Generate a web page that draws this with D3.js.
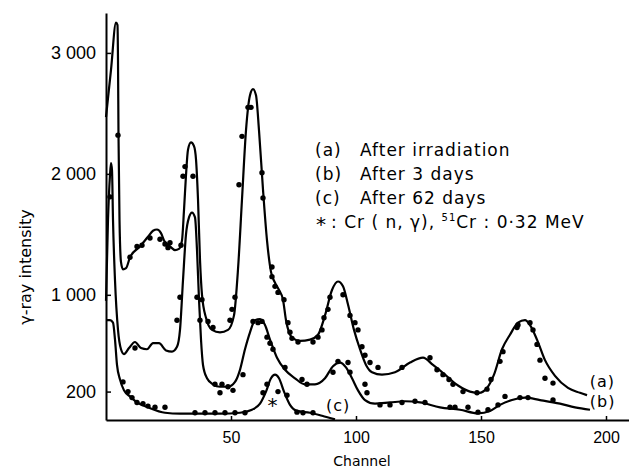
<!DOCTYPE html>
<html>
<head>
<meta charset="utf-8">
<script src="https://cdn.jsdelivr.net/npm/d3@7/dist/d3.min.js"></script>
<style>
	body { margin: 0; background: #fff; }
	svg { display: block; font-family: 'DejaVu Sans', sans-serif; }
</style>
</head>
<body>
<div id="chart"></div>
<script>
// spectra: [channel, intensity]
const curveA = [
	[0, 2470], [2, 2860], [4, 3250], [4.6, 3230], [4.8, 2940], [5, 2320], [5.4, 1620], [6, 1270],
	[6.8, 1210], [8, 1220], [9.6, 1310], [13.6, 1400], [16.8, 1480], [18.8, 1530], [20.4, 1540],
	[22, 1510], [23.2, 1450], [25.6, 1400], [27.6, 1370], [29.2, 1380], [30.4, 1450], [31.2, 1700],
	[32, 1990], [32.8, 2200], [34, 2260], [35.2, 2230], [36, 2120], [36.8, 1790], [37.6, 1290],
	[38.4, 1000], [40, 810], [42.4, 710], [45.6, 690], [48.8, 710], [51.2, 830], [52.8, 1210],
	[54.4, 1790], [56, 2360], [57.6, 2650], [58.8, 2700], [60, 2650], [61.2, 2360], [62.8, 1870],
	[64.4, 1450], [66, 1190], [67.6, 1100], [69.2, 1040], [70.8, 960], [72, 790], [73.2, 690],
	[74.8, 640], [77.6, 620], [81.6, 630], [84.8, 670], [87.6, 830], [90.4, 1040], [92.8, 1110],
	[94.8, 1070], [96.8, 920], [99.2, 710], [101.6, 550], [104, 420], [106.4, 360], [110.4, 340],
	[115.6, 360], [121.6, 440], [126.8, 480], [130.8, 420], [135.6, 340], [140.8, 250], [145.6, 200],
	[149.2, 190], [152.4, 230], [155.2, 340], [158.4, 550], [161.6, 670], [164.8, 770], [167.6, 790],
	[169.6, 750], [172.4, 630], [175.6, 460], [179.6, 330], [184.8, 230], [189.6, 190], [192.4, 170]
];

const curveB = [
	[0, 950], [0.8, 1620], [1.6, 1990], [2, 2090], [2.4, 2030], [2.8, 1620], [3.6, 1120], [4.8, 710],
	[6, 550], [7.2, 510], [9.2, 560], [11.6, 610], [14, 560], [16.4, 550], [18.8, 600], [21.2, 600],
	[24, 540], [26.4, 530], [28.4, 570], [29.6, 710], [30.8, 1120], [32, 1500], [33.2, 1640],
	[34.4, 1680], [35.6, 1640], [36.4, 1370], [37.2, 960], [38, 630], [38.8, 420], [40.4, 310],
	[42.8, 260], [45.6, 240], [48.8, 240], [51.6, 280], [53.6, 380], [55.6, 550], [57.6, 690],
	[59.6, 790], [61.6, 800], [63.6, 750], [65.6, 630], [68.4, 480], [71.6, 380], [75.6, 310],
	[79.6, 260], [83.6, 260], [87.6, 310], [90.8, 410], [93.6, 440], [96, 400], [98.4, 310],
	[100.8, 210], [103.6, 130], [107.6, 100], [113.6, 110], [119.6, 120], [125.6, 110], [133.6, 70],
	[141.6, 50], [148.8, 20], [153.6, 40], [157.6, 90], [162.4, 130], [167.6, 150], [173.6, 130],
	[181.6, 100], [187.6, 70], [193.6, 50]
];

const curveC = [
	[0, 790], [1.6, 790], [2.8, 770], [3.6, 630], [4.4, 420], [5.6, 300], [7.2, 210], [9.6, 160],
	[12.4, 110], [16.8, 70], [23.6, 25], [29.6, 17], [37.6, 17], [45.6, 17], [53.6, 25], [58.4, 50],
	[61.6, 100], [64, 200], [66, 310], [67.6, 340], [69.2, 310], [71.2, 200], [73.6, 90], [76.4, 40],
	[81.6, 25], [86.4, 0], [91.6, -30]
];

// measured points scattered along each curve
const dotsA = [
	[4.8, 2320], [9.6, 1310], [12.4, 1400], [14.4, 1410], [17.6, 1470], [21.6, 1460], [23.6, 1420],
	[24.8, 1390], [25.6, 1430], [30, 1410], [30.8, 1980], [31.6, 2060], [34.8, 1980], [38.4, 960],
	[40.8, 780], [42.8, 730], [49.6, 790], [50.4, 880], [51.6, 980], [53.2, 1910], [54.4, 2310],
	[56.8, 2550], [58, 2550], [62.4, 2010], [62.8, 1800], [66.4, 1230], [66.4, 1150], [67.6, 1070],
	[68.8, 1020], [71.2, 960], [72.8, 770], [73.6, 690], [74.4, 640], [76.8, 610], [82.8, 610],
	[84.8, 650], [86.4, 710], [87.2, 810], [88.8, 880], [89.6, 980], [94.8, 1000], [97.6, 830],
	[99.6, 770], [100.8, 710], [102.4, 570], [103.6, 500], [105.6, 440], [108.8, 400], [118.4, 400],
	[129.6, 480], [132.4, 380], [134.8, 340], [137.2, 300], [138.8, 260], [142.8, 200], [148.4, 190],
	[152.4, 220], [154, 300], [157.6, 450], [158.8, 530], [164.4, 730], [164.8, 750], [169.6, 770],
	[170.8, 710], [172.4, 590], [173.6, 460], [175.6, 310], [178.8, 270]
];

const dotsB = [
	[1.6, 1810], [11.6, 560], [28.4, 790], [29.6, 980], [36.4, 980], [37.6, 790], [43.6, 260],
	[45.6, 190], [46.4, 260], [48.8, 240], [50.8, 210], [54.8, 340], [58.8, 780], [60.8, 770],
	[62.4, 780], [64.4, 650], [65.6, 600], [66.8, 550], [71.6, 400], [78.4, 300], [80.4, 260],
	[90.8, 360], [92.8, 450], [96.8, 440], [97.6, 360], [103.6, 260], [104.4, 190], [109.6, 90],
	[113.6, 90], [118.4, 110], [123.6, 120], [127.6, 110], [137.6, 70], [139.6, 70], [144.8, 70],
	[148.8, 30], [152.8, 50], [156.8, 90], [159.6, 160], [165.6, 150], [168.8, 150], [178.8, 130]
];

const dotsC = [
	[6.8, 280], [8.8, 200], [10.4, 150], [12.4, 110], [14.8, 100], [16.8, 80], [19.6, 70],
	[23.6, 70], [35.6, 25], [39.6, 25], [43.6, 25], [47.6, 25], [51.6, 25], [55.6, 25], [62.8, 190],
	[64.4, 260], [68.8, 200], [72.4, 170], [76.4, 30], [78.8, 25], [82.8, 25]
];

const xTicks = [50, 100, 150, 200];
const yTicks = [200, 1000, 2000, 3000];
const legendKeys = ['(a)', '(b)', '(c)'];
const legendTexts = ['After  irradiation', 'After  3 days', 'After  62 days'];

const width = 629;
const height = 472;

const svg = d3.select('#chart').append('svg')
	.attr('width', width)
	.attr('height', height);

const x = d3.scaleLinear().domain([0, 209]).range([106, 628.5]);
const y = d3.scaleLinear().domain([-35, 3330]).range([420, 13]);

/* axes: ticks point into the plot */
const axisX = d3.axisBottom(x)
	.tickValues(xTicks)
	.tickSizeInner(-4)
	.tickSizeOuter(0)
	.tickPadding(12);

const axisY = d3.axisLeft(y)
	.tickValues(yTicks)
	.tickFormat(d => d >= 1000 ? d3.format(',')(d).replace(',', ' ') : d)
	.tickSizeInner(-5)
	.tickSizeOuter(0)
	.tickPadding(10);

const gx = svg.append('g')
	.attr('transform', `translate(0,${y.range()[0]})`)
	.call(axisX);
gx.selectAll('text').style('font-size', '16px').attr('fill', '#000');

const gy = svg.append('g')
	.attr('transform', `translate(${x.range()[0]},0)`)
	.call(axisY);
gy.selectAll('text').style('font-size', '18px').attr('fill', '#000');

svg.selectAll('.domain').attr('stroke', '#000').attr('stroke-width', 2);
svg.selectAll('.tick line').attr('stroke', '#000').attr('stroke-width', 1.5);

svg.append('text')
	.attr('x', x(102.4))
	.attr('y', 466)
	.attr('text-anchor', 'middle')
	.style('font-size', '14px')
	.text('Channel');

svg.append('text')
	.attr('transform', `translate(31,${y(1230)}) rotate(-90)`)
	.attr('text-anchor', 'middle')
	.style('font-size', '16px')
	.text('γ-ray intensity');

/* spectra */
const line = d3.line()
	.x(d => x(d[0]))
	.y(d => y(d[1]))
	.curve(d3.curveMonotoneX);

[curveA, curveB, curveC].forEach(curve => {
	svg.append('path')
		.datum(curve)
		.attr('fill', 'none')
		.attr('stroke', '#000')
		.attr('stroke-width', 2.2)
		.attr('stroke-linejoin', 'round')
		.attr('d', line);
});

[dotsA, dotsB, dotsC].forEach(dots => {
	svg.append('g')
		.selectAll('circle')
		.data(dots)
		.join('circle')
		.attr('cx', d => x(d[0]))
		.attr('cy', d => y(d[1]))
		.attr('r', 2.7)
		.attr('fill', '#000');
});

/* curve labels */
const endLabels = svg.append('g').style('font-size', '16px').style('letter-spacing', '1px');
endLabels.append('text').attr('x', x(193.5)).attr('y', y(240)).text('(a)');
endLabels.append('text').attr('x', x(193.5)).attr('y', y(75)).text('(b)');
endLabels.append('text').attr('x', x(88)).attr('y', y(40)).text('(c)');
endLabels.append('text')
	.attr('x', x(66.8)).attr('y', y(30))
	.attr('text-anchor', 'middle')
	.style('font-size', '20px')
	.text('*');

/* legend */
const legend = svg.append('g')
	.style('font-size', '17px')
	.style('letter-spacing', '1px')
	.attr('xml:space', 'preserve');

legendKeys.forEach((key, i) => {
	const row = legend.append('text').attr('y', 156 + i * 24);
	row.append('tspan').attr('x', 315).text(key);
	row.append('tspan').attr('x', 360).text(legendTexts[i]);
});

const note = legend.append('text').attr('y', 156 + 3 * 24);
note.append('tspan').attr('x', 316).style('font-size', '20px').attr('dy', 3).text('*');
note.append('tspan').attr('dx', 4).attr('dy', -3).text(': Cr ( n, γ),  ');
note.append('tspan').style('font-size', '10px').attr('dy', -7).text('51');
note.append('tspan').attr('dy', 7).text('Cr : 0·32 MeV');
</script>
</body>
</html>
